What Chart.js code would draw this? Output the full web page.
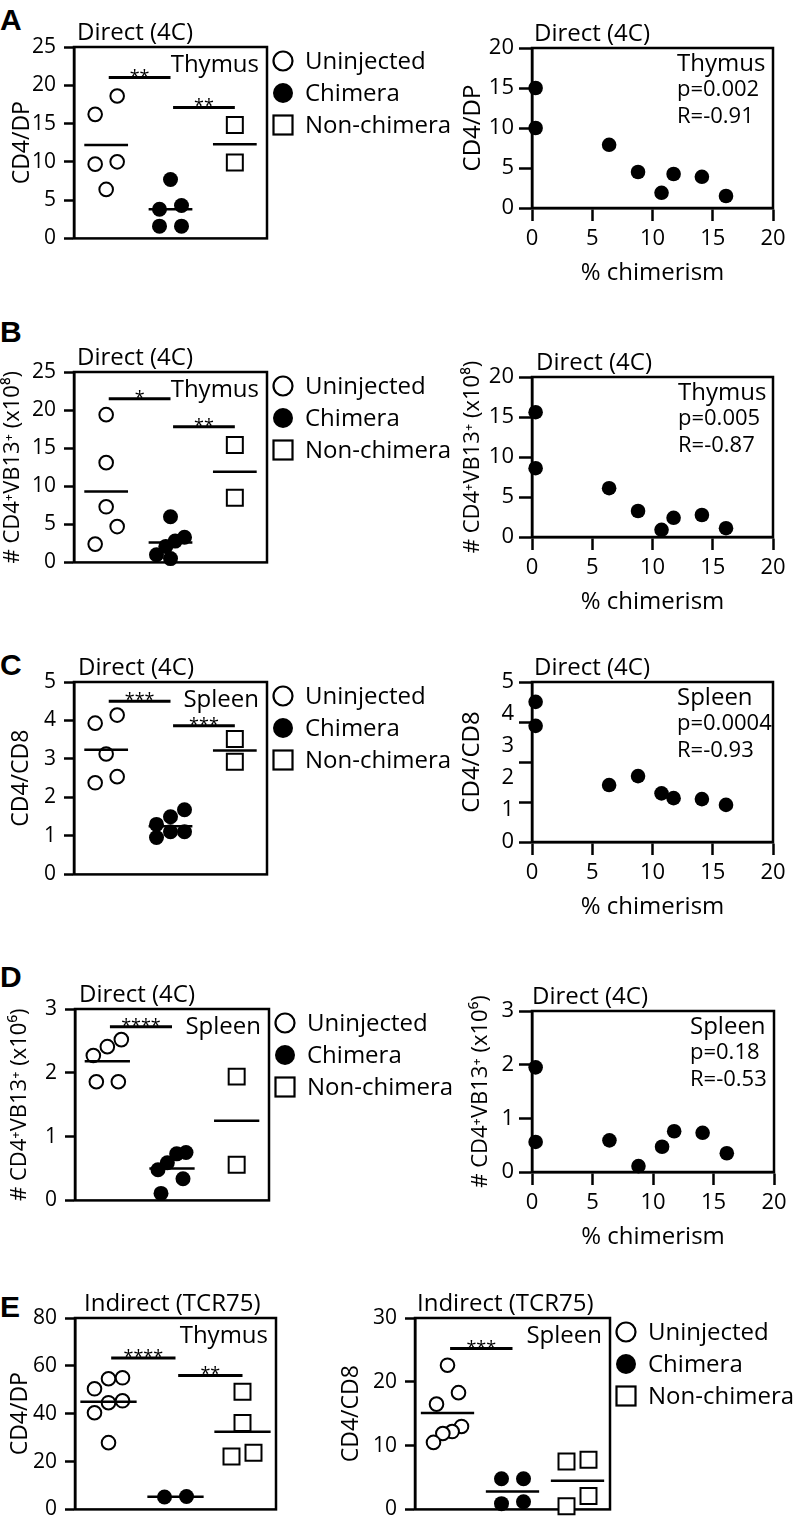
<!DOCTYPE html>
<html><head><meta charset="utf-8">
<script src="https://cdn.jsdelivr.net/npm/chart.js@4.4.0/dist/chart.umd.min.js"></script>
<style>
html,body{margin:0;padding:0;background:#fff;}
#page{position:relative;width:794px;height:1521px;overflow:hidden;background:#fff;}
#page canvas{position:absolute;}
.letter{position:absolute;left:0;font:bold 30px "Liberation Sans",Arial,sans-serif;line-height:30px;color:#000;}
</style></head><body>
<div id="page">
<div class="letter" style="top:5px">A</div>
<div class="letter" style="top:317px">B</div>
<div class="letter" style="top:650px">C</div>
<div class="letter" style="top:962px">D</div>
<div class="letter" style="top:1292px">E</div>
</div>
<script>
// ---------------- DATA ----------------
const groups = ['Uninjected', 'Chimera', 'Non-chimera'];

// A: Direct (4C), thymus, CD4/DP
const aUninjected = [18.6, 16.2, 10.0, 9.7, 6.4];
const aChimera    = [7.7, 4.3, 3.8, 1.6, 1.6];
const aNonChimera = [14.8, 9.9];
const aMeans      = [12.2, 3.8, 12.3];
const aSig        = [[0, 1, 21.0, '**'], [1, 2, 17.1, '**']];
const aTicks      = [0, 5, 10, 15, 20, 25];

// B: Direct (4C), thymus, # CD4+VB13+ (x10^8)
const bUninjected = [19.4, 13.1, 7.3, 4.7, 2.4];
const bChimera    = [6.0, 3.3, 2.8, 2.1, 1.0, 0.5];
const bNonChimera = [15.4, 8.5];
const bMeans      = [9.3, 2.6, 11.9];
const bSig        = [[0, 1, 21.5, '*'], [1, 2, 17.8, '**']];
const bTicks      = [0, 5, 10, 15, 20, 25];

// C: Direct (4C), spleen, CD4/CD8
const cUninjected = [4.14, 3.93, 3.13, 2.54, 2.38];
const cChimera    = [1.68, 1.50, 1.30, 1.11, 1.11, 0.96];
const cNonChimera = [3.52, 2.93];
const cMeans      = [3.24, 1.25, 3.22];
const cSig        = [[0, 1, 4.5, '***'], [1, 2, 3.86, '***']];
const cTicks      = [0, 1, 2, 3, 4, 5];

// D: Direct (4C), spleen, # CD4+VB13+ (x10^6)
const dUninjected = [2.52, 2.41, 2.27, 1.86, 1.86];
const dChimera    = [0.75, 0.73, 0.59, 0.48, 0.34, 0.11];
const dNonChimera = [1.94, 0.56];
const dMeans      = [2.18, 0.50, 1.25];
const dSig        = [[0, 1, 2.72, '****']];
const dTicks      = [0, 1, 2, 3];

// E: Indirect (TCR75), thymus CD4/DP and spleen CD4/CD8
const eThyUninjected = [55.0, 54.6, 50.4, 45.4, 44.6, 40.4, 27.9];
const eThyChimera    = [5.4, 5.2];
const eThyNonChimera = [49.2, 36.1, 23.7, 22.1];
const eThyMeans      = [45.0, 5.3, 32.5];
const eThySig        = [[0, 1, 63.3, '****'], [1, 2, 56.0, '**']];
const eThyTicks      = [0, 20, 40, 60, 80];

const eSplUninjected = [22.6, 18.3, 16.5, 13.0, 12.2, 11.9, 10.5];
const eSplChimera    = [4.8, 4.8, 1.2, 0.9];
const eSplNonChimera = [7.8, 7.5, 2.1, 0.5];
const eSplMeans      = [15.1, 2.8, 4.5];
const eSplSig        = [[0, 1, 25.2, '***']];
const eSplTicks      = [0, 10, 20, 30];

// Correlation panels: % chimerism vs readout
const chimerism      = [0.3, 0.3, 6.4, 8.8, 10.75, 11.75, 14.1, 16.1];
const chimerismTicks = [0, 5, 10, 15, 20];
const aCorr = [15.0, 10.0, 7.9, 4.5, 1.9, 4.25, 3.9, 1.5];
const bCorr = [15.6, 8.6, 6.1, 3.25, 0.9, 2.4, 2.75, 1.1];
const cCorr = [4.38, 3.63, 1.78, 2.06, 1.52, 1.37, 1.34, 1.16];
const dCorr = [1.95, 0.56, 0.59, 0.11, 0.47, 0.76, 0.73, 0.35];
const aCorrTicks = [0, 5, 10, 15, 20];
const bCorrTicks = [0, 5, 10, 15, 20];
const cCorrTickLabels = [0, 1, 2, 3, 4, 5];
const cCorrTickMarks  = [0, 1.25, 2.5, 3.75, 5];
const dCorrTicks = [0, 1, 2, 3];
const aStats = ['Thymus', 'p=0.002', 'R=-0.91'];
const bStats = ['Thymus', 'p=0.005', 'R=-0.87'];
const cStats = ['Spleen', 'p=0.0004', 'R=-0.93'];
const dStats = ['Spleen', 'p=0.18', 'R=-0.53'];

// ---------------- RENDERING ----------------
const FONT = '"Open Sans", "DejaVu Sans", sans-serif';
Chart.defaults.font.family = FONT;
Chart.defaults.color = '#000';
const PAGE = document.getElementById('page');
const panelCfg = {};
const MT = 45;

function jitterPx(values, pxPerUnit) {
  const idx = values.map((v, i) => i).sort((a, b) => values[b] - values[a]);
  const rows = []; let cur = null;
  idx.forEach(i => {
    if (cur && (values[cur[0]] - values[i]) * pxPerUnit < 19.5) cur.push(i);
    else { cur = [i]; rows.push(cur); }
  });
  const off = new Array(values.length).fill(0);
  rows.forEach(r => {
    r.sort((a, b) => values[a] - values[b]);
    const n = r.length;
    r.forEach((i, k) => {
      off[i] = n === 1 ? 0 : (n === 2 ? (k === 0 ? -11 : 11) : -14 + 28 * k / (n - 1));
    });
  });
  return off;
}

const annot = {
  id: 'annot',
  beforeDatasetsDraw(chart) {
    const ca = chart.chartArea, ctx = chart.ctx;
    ctx.save();
    ctx.strokeStyle = '#000'; ctx.lineWidth = 2.5;
    ctx.strokeRect(ca.left, ca.top, ca.right - ca.left, ca.bottom - ca.top);
    ctx.restore();
  },
  afterDraw(chart) {
    const p = panelCfg[chart.canvas.id];
    const ca = chart.chartArea, ctx = chart.ctx;
    ctx.save();
    ctx.fillStyle = '#000'; ctx.strokeStyle = '#000';
    ctx.textBaseline = 'middle'; ctx.textAlign = 'left';
    ctx.font = '24px ' + FONT;
    ctx.fillText(p.title, ca.left + p.titleDx, ca.top - 14);
    if (p.tissue) {
      ctx.textAlign = 'right';
      ctx.fillText(p.tissue, ca.right - 8, ca.top + 18);
    }
    if (p.stats) {
      ctx.textAlign = 'left';
      const sx = ca.right - p.statsDx;
      ctx.font = '24px ' + FONT; ctx.fillText(p.stats[0], sx, ca.top + 16);
      ctx.font = '22px ' + FONT; ctx.fillText(p.stats[1], sx, ca.top + 42);
      ctx.fillText(p.stats[2], sx, ca.top + 69);
    }
    if (p.sig) {
      const xs = chart.scales.x, ys = chart.scales.y;
      ctx.font = '18px ' + FONT; ctx.textAlign = 'center'; ctx.textBaseline = 'alphabetic';
      p.sig.forEach(([a, b, y, s]) => {
        const x = (xs.getPixelForValue(a + 0.04) + xs.getPixelForValue(b)) / 2;
        ctx.fillText(s, x, ys.getPixelForValue(y) + 5);
      });
    }
    if (p.legend) {
      ctx.font = '24px ' + FONT; ctx.textAlign = 'left'; ctx.textBaseline = 'middle';
      const cx = ca.right + 16;
      groups.forEach((g, i) => {
        const cy = ca.top + 14 + i * 32;
        ctx.lineWidth = 2.2;
        if (i === 0) { ctx.beginPath(); ctx.arc(cx, cy, 9.5, 0, Math.PI * 2); ctx.fillStyle = '#fff'; ctx.fill(); ctx.stroke(); }
        if (i === 1) { ctx.beginPath(); ctx.arc(cx, cy, 10, 0, Math.PI * 2); ctx.fillStyle = '#000'; ctx.fill(); }
        if (i === 2) { ctx.fillStyle = '#fff'; ctx.fillRect(cx - 9.5, cy - 9.5, 19, 19); ctx.strokeRect(cx - 9.5, cy - 9.5, 19, 19); }
        ctx.fillStyle = '#000';
        ctx.fillText(g, ca.right + 38, cy + 1);
      });
    }
    ctx.restore();
  }
};

function makeCanvas(id, box, ML, MR, MB) {
  const [bx, by, bw, bh] = box;
  const c = document.createElement('canvas');
  c.id = id;
  const W = bw + ML + MR, H = bh + MT + MB;
  c.width = W; c.height = H;
  c.style.width = W + 'px'; c.style.height = H + 'px';
  c.style.left = (bx - ML) + 'px'; c.style.top = (by - MT) + 'px';
  PAGE.appendChild(c);
  return c;
}

function yTitlePad(titleX, canvasLeft, size) {
  return Math.max(0, titleX - canvasLeft - size * 0.6);
}

function makeCat(id, o) {
  const [bx, by, bw, bh] = o.box;
  const ML = o.ml, MR = o.legend ? o.mr : 20, MB = 20;
  const c = makeCanvas(id, o.box, ML, MR, MB);
  panelCfg[id] = o;
  const ymin = o.ticks[0], ymax = o.ticks[o.ticks.length - 1];
  const pxU = bh / (ymax - ymin), catPx = bw / 3;
  const ds = [];
  o.means.forEach((m, g) => ds.push({type: 'line', data: [{x: g - o.halfMean, y: m}, {x: g + o.halfMean, y: m}],
    borderColor: '#000', borderWidth: 2.5, pointRadius: 0, clip: false}));
  o.sig.forEach(([a, b, y]) => ds.push({type: 'line', data: [{x: a + 0.04, y: y}, {x: b, y: y}],
    borderColor: '#000', borderWidth: 3, pointRadius: 0, clip: false}));
  const styles = [
    {pointStyle: 'circle', pointRadius: 6.8, pointBackgroundColor: '#fff', pointBorderColor: '#000', pointBorderWidth: 2},
    {pointStyle: 'circle', pointRadius: 7.5, pointBackgroundColor: '#000', pointBorderColor: '#000', pointBorderWidth: 0},
    {pointStyle: 'rect', pointRadius: 11.3, pointBackgroundColor: '#fff', pointBorderColor: '#000', pointBorderWidth: 2}
  ];
  o.series.forEach((vals, g) => {
    const off = jitterPx(vals, pxU);
    ds.push(Object.assign({type: 'scatter', label: groups[g], data: vals.map((v, i) => ({x: g + off[i] / catPx, y: v})),
      clip: false, pointHoverRadius: styles[g].pointRadius}, styles[g]));
  });
  const ySize = o.yTitleSize || 23;
  new Chart(c, {
    type: 'scatter',
    data: {datasets: ds},
    options: {
      responsive: false, animation: false, devicePixelRatio: 1,
      layout: {padding: {left: 0, top: MT, right: MR, bottom: 0}},
      plugins: {legend: {display: false}, tooltip: {enabled: false}},
      scales: {
        x: {type: 'linear', min: -0.5, max: 2.5, ticks: {display: false}, grid: {display: false, drawTicks: false},
            border: {display: false}, afterFit: s => { s.height = MB; }},
        y: {type: 'linear', min: ymin, max: ymax,
            afterBuildTicks: s => { s.ticks = o.ticks.map(v => ({value: v})); },
            ticks: {autoSkip: false, font: {size: 21}, color: '#000', padding: 8, callback: v => String(v)},
            grid: {display: true, drawOnChartArea: false, drawTicks: true, tickLength: 10, tickWidth: 2.5, tickColor: '#000'},
            border: {display: true, width: 2.5, color: '#000'},
            title: {display: true, text: o.yTitle, color: '#000', font: {size: ySize},
                    padding: {top: yTitlePad(o.yTitleX, bx - ML, ySize), bottom: 0}},
            afterFit: s => { s.width = ML; }}
      }
    },
    plugins: [annot]
  });
}

function makeCorr(id, o) {
  const [bx, by, bw, bh] = o.box;
  const ML = 90, MR = 21, MB = 90;
  const c = makeCanvas(id, o.box, ML, MR, MB);
  panelCfg[id] = o;
  const marks = o.marks || o.labels;
  const all = Array.from(new Set(marks.concat(o.labels))).sort((a, b) => a - b);
  const ySize = o.yTitleSize || 24;
  new Chart(c, {
    type: 'scatter',
    data: {datasets: [{data: o.x.map((x, i) => ({x: x, y: o.y[i]})), pointRadius: 7.3, pointHoverRadius: 7.3,
      pointBackgroundColor: '#000', pointBorderWidth: 0, clip: false}]},
    options: {
      responsive: false, animation: false, devicePixelRatio: 1,
      layout: {padding: {left: 0, top: MT, right: MR, bottom: 0}},
      plugins: {legend: {display: false}, tooltip: {enabled: false}},
      scales: {
        x: {type: 'linear', min: chimerismTicks[0], max: chimerismTicks[chimerismTicks.length - 1],
            afterBuildTicks: s => { s.ticks = chimerismTicks.map(v => ({value: v})); },
            ticks: {autoSkip: false, maxRotation: 0, font: {size: 22}, color: '#000', padding: 5, callback: v => String(v)},
            grid: {display: true, drawOnChartArea: false, drawTicks: true, tickLength: 13, tickWidth: 2.5, tickColor: '#000'},
            border: {display: true, width: 2.5, color: '#000'},
            title: {display: true, text: '% chimerism', color: '#000', font: {size: 24}, padding: {top: 0, bottom: 10.6}},
            afterFit: s => { s.height = MB; }},
        y: {type: 'linear', min: marks[0], max: marks[marks.length - 1],
            afterBuildTicks: s => { s.ticks = all.map(v => ({value: v})); },
            ticks: {autoSkip: false, font: {size: 22}, color: '#000', padding: 5,
                    callback: v => o.labels.includes(v) ? String(v) : ''},
            grid: {display: true, drawOnChartArea: false, drawTicks: true, tickLength: 13, tickWidth: 2.5,
                   tickColor: ctx => marks.includes(ctx.tick.value) ? '#000' : 'rgba(0,0,0,0)'},
            border: {display: true, width: 2.5, color: '#000'},
            title: {display: true, text: o.yTitle, color: '#000', font: {size: ySize},
                    padding: {top: yTitlePad(o.yTitleX, bx - ML, ySize), bottom: 0}},
            afterFit: s => { s.width = ML; }}
      }
    },
    plugins: [annot]
  });
}

const titleD = 'Direct (4C)', titleI = 'Indirect (TCR75)';
const cntB = '# CD4\u207AVB13\u207A (x10\u2078)', cntD = '# CD4\u207AVB13\u207A (x10\u2076)';

makeCat('aL', {box: [74, 47, 193, 192], ml: 74, mr: 200, legend: true, title: titleD, titleDx: 3, tissue: 'Thymus',
  series: [aUninjected, aChimera, aNonChimera], means: aMeans, sig: aSig, ticks: aTicks, halfMean: 0.34,
  yTitle: 'CD4/DP', yTitleX: 22});
makeCorr('aR', {box: [532, 48, 241, 160], title: titleD, titleDx: 2, stats: aStats, statsDx: 96,
  x: chimerism, y: aCorr, labels: aCorrTicks, yTitle: 'CD4/DP', yTitleX: 473});

makeCat('bL', {box: [74, 372, 193, 191], ml: 74, mr: 200, legend: true, title: titleD, titleDx: 3, tissue: 'Thymus',
  series: [bUninjected, bChimera, bNonChimera], means: bMeans, sig: bSig, ticks: bTicks, halfMean: 0.34,
  yTitle: cntB, yTitleX: 13, yTitleSize: 22});
makeCorr('bR', {box: [532, 377, 241, 160], title: titleD, titleDx: 4, stats: bStats, statsDx: 95,
  x: chimerism, y: bCorr, labels: bCorrTicks, yTitle: cntB, yTitleX: 473, yTitleSize: 22});

makeCat('cL', {box: [74, 682, 193, 193], ml: 74, mr: 200, legend: true, title: titleD, titleDx: 4, tissue: 'Spleen',
  series: [cUninjected, cChimera, cNonChimera], means: cMeans, sig: cSig, ticks: cTicks, halfMean: 0.34,
  yTitle: 'CD4/CD8', yTitleX: 21});
makeCorr('cR', {box: [532, 682, 241, 160], title: titleD, titleDx: 2, stats: cStats, statsDx: 96,
  x: chimerism, y: cCorr, labels: cCorrTickLabels, marks: cCorrTickMarks, yTitle: 'CD4/CD8', yTitleX: 472});

makeCat('dL', {box: [75, 1009, 194, 192], ml: 75, mr: 200, legend: true, title: titleD, titleDx: 4, tissue: 'Spleen',
  series: [dUninjected, dChimera, dNonChimera], means: dMeans, sig: dSig, ticks: dTicks, halfMean: 0.35,
  yTitle: cntD, yTitleX: 20, yTitleSize: 22});
makeCorr('dR', {box: [532, 1011, 242, 161], title: titleD, titleDx: 0, stats: dStats, statsDx: 84,
  x: chimerism, y: dCorr, labels: dCorrTicks, yTitle: cntD, yTitleX: 481, yTitleSize: 22});

makeCat('eL', {box: [75, 1318, 201, 192], ml: 75, mr: 20, legend: false, title: titleI, titleDx: 9, tissue: 'Thymus',
  series: [eThyUninjected, eThyChimera, eThyNonChimera], means: eThyMeans, sig: eThySig, ticks: eThyTicks, halfMean: 0.42,
  yTitle: 'CD4/DP', yTitleX: 20});
makeCat('eR', {box: [415, 1318, 195, 192], ml: 90, mr: 184, legend: true, title: titleI, titleDx: 2, tissue: 'Spleen',
  series: [eSplUninjected, eSplChimera, eSplNonChimera], means: eSplMeans, sig: eSplSig, ticks: eSplTicks, halfMean: 0.41,
  yTitle: 'CD4/CD8', yTitleX: 351});
</script>
</body></html>
